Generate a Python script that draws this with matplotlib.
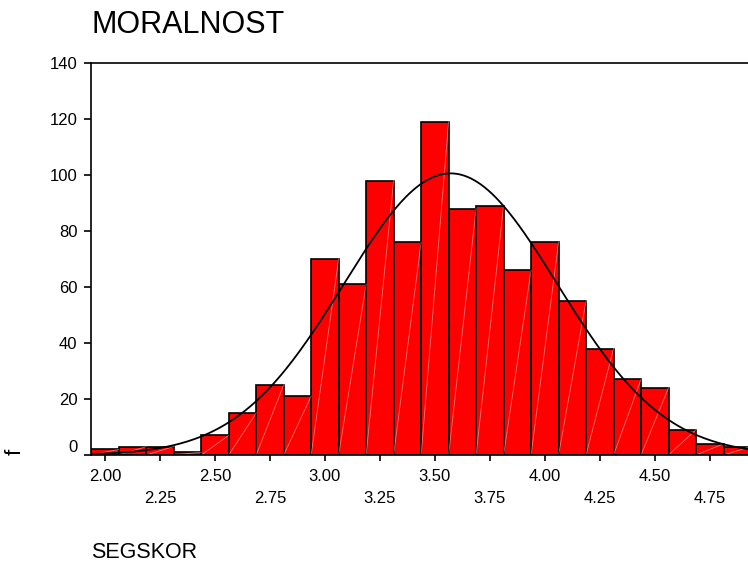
import matplotlib.pyplot as plt
import numpy as np

plt.rcParams['font.family'] = ['Liberation Sans', 'DejaVu Sans']

# histogram of SEGSKOR, bin width 0.125
bin_centers = np.arange(24) * 0.125 + 2.0
counts = [2, 3, 3, 1, 7, 15, 25, 21, 70, 61, 98, 76,
          119, 88, 89, 66, 76, 55, 38, 27, 24, 9, 4, 3]
width = 0.125

major_ticks = [2.00, 2.50, 3.00, 3.50, 4.00, 4.50]
minor_ticks = [2.25, 2.75, 3.25, 3.75, 4.25, 4.75]

counts = np.array(counts)
N = counts.sum()
mu = (counts * bin_centers).sum() / N
sd = np.sqrt((counts * (bin_centers - mu) ** 2).sum() / N)

fig = plt.figure(figsize=(7.48, 5.62), dpi=100)
ax = fig.add_axes([91.25 / 748, 1 - 455 / 562, (751 - 91.25) / 748, (455 - 63) / 562])

ax.bar(bin_centers, counts, width=width, color='#ff0000', edgecolor='black', linewidth=1.2, zorder=2)
# faint white diagonal streaks inside each bar
for c, h in zip(bin_centers, counts):
    ax.plot([c - width / 2, c + width / 2], [0, h], color='white', lw=0.6, alpha=0.45, zorder=2.5)

xs = np.linspace(1.9, 5.0, 400)
ys = N * width / (sd * np.sqrt(2 * np.pi)) * np.exp(-0.5 * ((xs - mu) / sd) ** 2)
ax.plot(xs, ys, color='black', lw=1.3, zorder=3)

ax.set_xlim(1.9375, 4.9375)
ax.set_ylim(0, 140)
ax.spines['right'].set_visible(False)
for s in ['left', 'bottom', 'top']:
    ax.spines[s].set_linewidth(1.2)

ax.set_yticks(range(0, 141, 20))
ax.tick_params(axis='y', length=5, width=1.2, labelsize=12, pad=5)
ylabs = ax.get_yticklabels()
ylabs[0].set_verticalalignment('bottom')

ax.set_xticks(major_ticks)
ax.set_xticklabels(['%.2f' % t for t in major_ticks])
ax.set_xticks(minor_ticks, minor=True)
ax.set_xticklabels(['%.2f' % t for t in minor_ticks], minor=True)
ax.tick_params(axis='x', which='major', length=4, width=1.2, labelsize=12, pad=6)
ax.tick_params(axis='x', which='minor', length=4, width=1.2, labelsize=12, pad=22)

fig.text(91 / 748, 1 - 25 / 562, 'MORALNOST', fontsize=22, va='center', ha='left')
fig.text(15 / 748, 1 - 452 / 562, 'f', fontsize=16, va='center', ha='center', rotation=90)
fig.text(91 / 748, 1 - 553 / 562, 'SEGSKOR', fontsize=15.5, va='center', ha='left')

fig.savefig('out.png', dpi=100)
